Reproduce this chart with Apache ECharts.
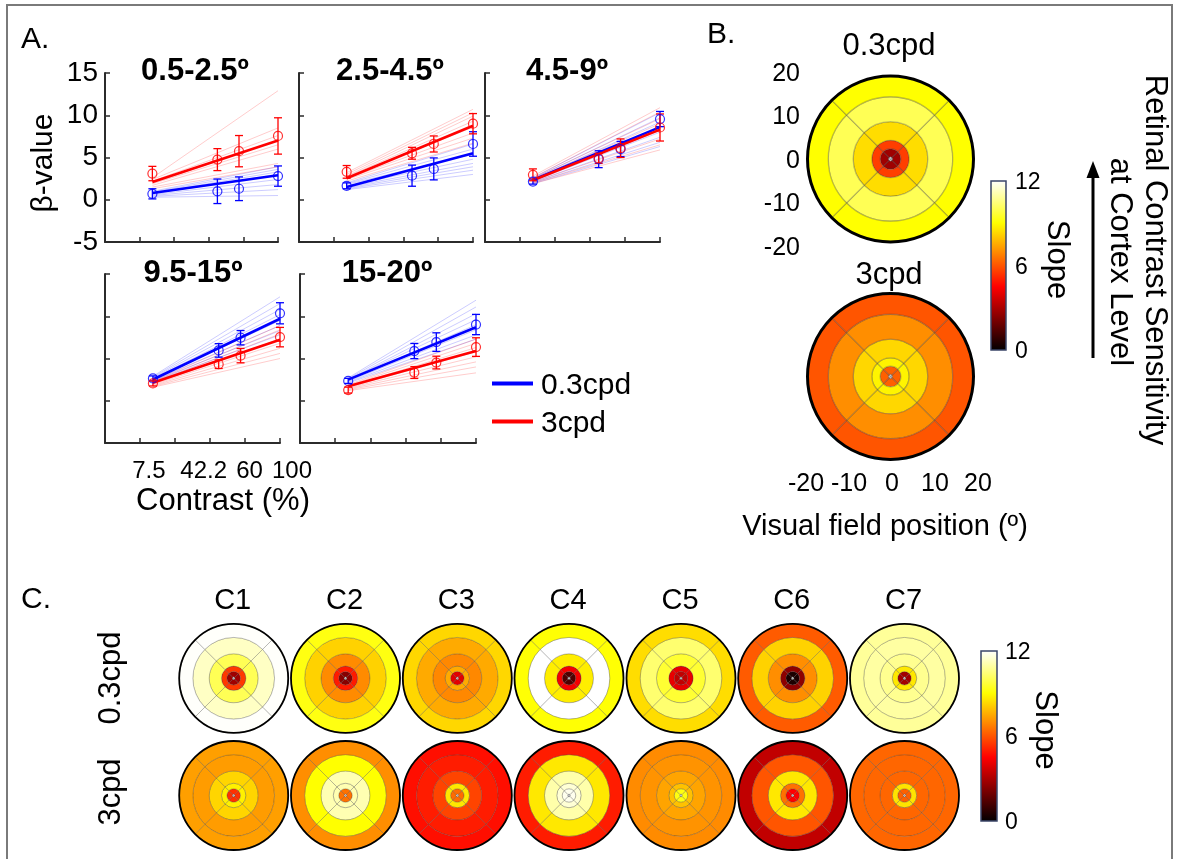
<!DOCTYPE html>
<html>
<head>
<meta charset="utf-8">
<title>Contrast response and slope maps</title>
<script src="https://cdn.jsdelivr.net/npm/echarts@6/dist/echarts.min.js"></script>
<style>
  html, body { margin: 0; padding: 0; background: #fff; }
  #fig { width: 1177px; height: 859px; }
</style>
</head>
<body>
<div id="fig"></div>
<script>
// ---------- data ----------
// stimulus contrast levels (%); plotted on a square-root x scale
const contrastLevels = [7.5, 42.2, 60, 100];
const contrastLabels = ['7.5', '42.2', '60', '100'];
const bandTitles = ['0.5-2.5º', '2.5-4.5º', '4.5-9º', '9.5-15º', '15-20º'];

// group mean beta values and error bars, 0.3cpd
const lowMean = [
  [0.7, 1.0, 1.3, 2.8],
  [1.65, 2.85, 3.65, 6.6],
  [2.15, 4.8, 6.0, 9.55],
  [2.64, 5.96, 7.46, 10.35],
  [2.35, 5.88, 6.94, 9.02]
];
const lowErr = [
  [0.6, 1.45, 1.4, 1.2],
  [0.35, 1.25, 1.3, 1.45],
  [0.3, 1.0, 0.9, 0.9],
  [0.3, 0.8, 0.85, 1.25],
  [0.3, 0.9, 1.1, 1.2]
];
// group fit, value at the lowest and highest contrast
const lowFit = [[0.8, 2.9], [1.5, 5.5], [2.35, 8.6], [2.52, 9.7], [2.5, 8.7]];

// group mean beta values and error bars, 3cpd
const highMean = [
  [3.1, 4.75, 5.75, 7.55],
  [3.3, 5.5, 6.6, 9.0],
  [2.95, 4.9, 6.1, 8.55],
  [2.05, 4.32, 5.34, 7.53],
  [1.26, 3.34, 4.52, 6.35]
];
const highErr = [
  [0.85, 1.3, 1.85, 2.15],
  [0.75, 0.7, 0.95, 1.2],
  [0.7, 0.6, 1.1, 1.6],
  [0.3, 0.5, 0.85, 1.15],
  [0.35, 0.7, 0.75, 1.1]
];
const highFit = [[2.1, 7.0], [2.55, 8.75], [2.3, 8.3], [2.12, 7.22], [1.73, 5.88]];

// single-subject fits (value at lowest, highest contrast)
const lowSubjects = [
  [[1.0, 3.9], [0.9, 3.6], [0.8, 3.3], [0.7, 3.0], [0.6, 2.4], [0.5, 1.8], [0.4, 1.2], [0.3, 0.5]],
  [[2.0, 6.6], [1.9, 6.0], [1.8, 5.4], [1.6, 4.8], [1.5, 4.3], [1.4, 3.9], [1.3, 3.5], [1.2, 3.0]],
  [[2.6, 10.3], [2.5, 9.7], [2.4, 9.2], [2.3, 8.6], [2.2, 8.0], [2.1, 7.4], [2.0, 6.8], [1.9, 6.3]],
  [[2.9, 12.3], [2.8, 11.5], [2.7, 10.8], [2.6, 10.2], [2.5, 9.5], [2.4, 8.9], [2.3, 8.3], [2.2, 7.8]],
  [[2.7, 11.9], [2.6, 11.1], [2.5, 10.3], [2.5, 9.6], [2.4, 9.0], [2.3, 8.4], [2.2, 7.8], [2.1, 7.3]]
];
const highSubjects = [
  [[2.6, 12.9], [2.4, 8.5], [2.2, 7.6], [2.0, 7.0], [1.9, 6.5], [1.7, 6.0], [1.5, 4.3], [1.3, 3.9]],
  [[3.2, 10.7], [3.0, 10.3], [2.8, 9.9], [2.7, 9.3], [2.6, 8.6], [2.5, 7.9], [2.4, 7.3], [2.2, 6.7]],
  [[2.8, 10.9], [2.6, 10.4], [2.5, 9.6], [2.4, 9.0], [2.3, 8.2], [2.1, 7.2], [2.0, 6.5], [1.9, 5.9]],
  [[2.3, 8.9], [2.2, 8.4], [2.1, 7.9], [2.0, 7.3], [1.9, 6.8], [1.8, 6.2], [1.7, 5.6], [1.6, 5.0]],
  [[1.9, 7.3], [1.8, 6.8], [1.7, 6.3], [1.6, 5.8], [1.5, 5.2], [1.4, 4.6], [1.3, 4.0], [1.2, 3.3]]
];

// eccentricity ring edges (deg) and slope per ring, centre outwards
const ringEdges = [0, 0.5, 2.5, 4.5, 9, 15, 20];
const groupSlopeLow = [12, 2.8, 5.6, 8.4, 10.0, 9.0];
const groupSlopeHigh = [12, 6.2, 8.8, 8.3, 7.0, 6.0];
const clusterNames = ['C1', 'C2', 'C3', 'C4', 'C5', 'C6', 'C7'];
const clusterSlopeLow = [
  [12, 2.8, 5.5, 10.0, 11.3, 11.95],
  [12, 2.4, 4.95, 6.95, 8.2, 9.2],
  [12, 4.0, 7.5, 6.9, 7.5, 8.3],
  [12, 1.4, 4.3, 8.7, 12, 9.05],
  [12, 3.4, 4.1, 9.6, 10.3, 8.4],
  [12, 0.5, 2.5, 7.0, 8.2, 6.1],
  [12, 2.9, 8.6, 10.7, 10.9, 10.8]
];
const clusterSlopeHigh = [
  [12, 5.35, 8.75, 8.25, 7.25, 7.3],
  [12, 6.5, 11.1, 11.1, 9.0, 7.0],
  [12, 6.4, 8.6, 5.7, 5.0, 4.75],
  [12, 11.8, 11.5, 11.0, 8.6, 5.0],
  [12, 9.2, 7.9, 7.4, 7.1, 6.95],
  [12, 4.5, 6.5, 8.6, 6.0, 3.4],
  [12, 6.2, 8.5, 6.3, 6.3, 6.3]
];
const slopeTicks = [0, 6, 12];

// ---------- styling / layout ----------
const FONT = '"Liberation Sans", Arial, Helvetica, sans-serif';
const BLUE = '#0000ff', RED = '#ff0000';
const AXIS = '#2b2b2b';
const SLOPE_MAX = 12;

// MATLAB-style "hot" colormap
function hot(v) {
  const t = Math.max(0, Math.min(1, v / SLOPE_MAX));
  const r = Math.min(1, t / 0.375);
  const g = Math.max(0, Math.min(1, (t - 0.375) / 0.375));
  const b = Math.max(0, Math.min(1, (t - 0.75) / 0.25));
  return 'rgb(' + Math.round(r * 255) + ',' + Math.round(g * 255) + ',' + Math.round(b * 255) + ')';
}

const panelGrids = [
  { left: 105, top: 73, width: 173, height: 169 },
  { left: 299, top: 73, width: 174, height: 169 },
  { left: 485, top: 73, width: 175, height: 169 },
  { left: 105, top: 274, width: 175, height: 169 },
  { left: 300, top: 274, width: 176, height: 169 }
];
const titlePos = [[195, 71], [390, 71], [567, 71], [193, 273], [387, 273]];

const diskLayout = [
  { cx: 890.5, cy: 159, r: 83, edge: 3, line: 1.3 },
  { cx: 890.5, cy: 376.5, r: 83, edge: 3, line: 1.3 }
];
const cCols = [233.7, 345.5, 457.3, 569, 681, 792.7, 904.5];
const cRows = [678.3, 795.5];
cRows.forEach(cy => cCols.forEach(cx => diskLayout.push({ cx: cx, cy: cy, r: 54.5, edge: 1.8, line: 1 })));
const diskSlopes = [groupSlopeLow, groupSlopeHigh].concat(clusterSlopeLow, clusterSlopeHigh);

function text(str, x, y, size, opts) {
  opts = opts || {};
  return {
    type: 'text', x: x, y: y, rotation: opts.rotation || 0, z: 50,
    style: {
      text: str, fontFamily: FONT, fontSize: size, fontWeight: opts.weight || 'normal',
      fill: '#000', align: opts.align || 'center', verticalAlign: 'middle',
      textAlign: opts.align || 'center', textVerticalAlign: 'middle'
    }
  };
}

// ---------- option ----------
const grid = panelGrids.slice();
grid.push({ left: 806, top: 74, width: 170, height: 174 });   // B: vertical position labels
grid.push({ left: 806, top: 300, width: 172, height: 166 });  // B: horizontal position labels

const xAxis = [], yAxis = [];
panelGrids.forEach((g, i) => {
  xAxis.push({
    gridIndex: i, type: 'value', min: 0, max: 10, interval: 2,
    axisLine: { show: true, onZero: false, lineStyle: { color: AXIS, width: 2 } },
    axisTick: { show: true, inside: true, length: 5, lineStyle: { color: AXIS, width: 1.5 } },
    axisLabel: { show: false }, splitLine: { show: false }
  });
  yAxis.push({
    gridIndex: i, type: 'value', min: -5, max: 15, interval: 5,
    axisLine: { show: true, onZero: false, lineStyle: { color: AXIS, width: 2 } },
    axisTick: { show: true, inside: true, length: 5, lineStyle: { color: AXIS, width: 1.5 } },
    axisLabel: { show: i === 0, fontFamily: FONT, fontSize: 28, color: '#000', margin: 7 },
    splitLine: { show: false }
  });
});
xAxis.push({ gridIndex: 5, type: 'value', min: -20, max: 20, show: false });
yAxis.push({
  gridIndex: 5, type: 'value', min: -20, max: 20, interval: 10,
  axisLine: { show: false }, axisTick: { show: false }, splitLine: { show: false },
  axisLabel: { fontFamily: FONT, fontSize: 25, color: '#000', margin: 6 }
});
xAxis.push({
  gridIndex: 6, type: 'value', min: -20, max: 20, interval: 10,
  axisLine: { show: false }, axisTick: { show: false }, splitLine: { show: false },
  axisLabel: { fontFamily: FONT, fontSize: 25, color: '#000', margin: 6 }
});
yAxis.push({ gridIndex: 6, type: 'value', min: -20, max: 20, show: false });

const series = [];
const sx = contrastLevels.map(c => Math.sqrt(c));
const sxFirst = sx[0], sxLast = sx[sx.length - 1];

function errorBars(idx, mean, err, color) {
  return {
    type: 'custom', xAxisIndex: idx, yAxisIndex: idx, z: 4, silent: true,
    data: mean.map((m, j) => [sx[j], m - err[j], m + err[j]]),
    encode: { x: 0, y: [1, 2] },
    renderItem: function (params, api) {
      const x = api.value(0);
      const lo = api.coord([x, api.value(1)]);
      const hi = api.coord([x, api.value(2)]);
      const cap = 4;
      const st = { stroke: color, lineWidth: 1.3 };
      return {
        type: 'group', children: [
          { type: 'line', shape: { x1: lo[0], y1: lo[1], x2: hi[0], y2: hi[1] }, style: st },
          { type: 'line', shape: { x1: lo[0] - cap, y1: lo[1], x2: lo[0] + cap, y2: lo[1] }, style: st },
          { type: 'line', shape: { x1: hi[0] - cap, y1: hi[1], x2: hi[0] + cap, y2: hi[1] }, style: st }
        ]
      };
    }
  };
}

for (let b = 0; b < 5; b++) {
  const groups = [
    { subj: lowSubjects[b], fit: lowFit[b], mean: lowMean[b], err: lowErr[b], color: BLUE, faint: 'rgba(0,0,255,0.2)', name: '0.3cpd' },
    { subj: highSubjects[b], fit: highFit[b], mean: highMean[b], err: highErr[b], color: RED, faint: 'rgba(255,0,0,0.2)', name: '3cpd' }
  ];
  groups.forEach(gp => {
    gp.subj.forEach(s => series.push({
      type: 'line', xAxisIndex: b, yAxisIndex: b, silent: true, symbol: 'none', z: 1,
      data: [[sxFirst, s[0]], [sxLast, s[1]]],
      lineStyle: { color: gp.faint, width: 1 }
    }));
  });
  groups.forEach(gp => {
    series.push({
      name: gp.name, type: 'line', xAxisIndex: b, yAxisIndex: b, silent: true, symbol: 'none', z: 3,
      data: [[sxFirst, gp.fit[0]], [sxLast, gp.fit[1]]],
      lineStyle: { color: gp.color, width: 2.6 }, itemStyle: { color: gp.color }
    });
    series.push(errorBars(b, gp.mean, gp.err, gp.color));
    series.push({
      type: 'scatter', xAxisIndex: b, yAxisIndex: b, silent: true, z: 5,
      symbol: 'circle', symbolSize: 9,
      data: gp.mean.map((m, j) => [sx[j], m]),
      itemStyle: { color: 'rgba(255,255,255,0)', borderColor: gp.color, borderWidth: 1.2 }
    });
  });
}

// slope maps: one polar system per disk, rings stacked outward, four 90° sectors
const polar = [], angleAxis = [], radiusAxis = [];
diskLayout.forEach((d, i) => {
  polar.push({ center: [d.cx, d.cy], radius: d.r });
  angleAxis.push({
    polarIndex: i, type: 'category', data: ['q1', 'q2', 'q3', 'q4'], startAngle: 45, z: 10,
    axisLine: { show: true, lineStyle: { color: '#000', width: d.edge } },
    axisTick: { show: false }, axisLabel: { show: false }, splitLine: { show: false }
  });
  radiusAxis.push({ polarIndex: i, type: 'value', min: 0, max: 20, show: false });
  diskSlopes[i].forEach((slope, k) => {
    const w = ringEdges[k + 1] - ringEdges[k];
    series.push({
      type: 'bar', coordinateSystem: 'polar', polarIndex: i, stack: 'disk' + i, silent: true,
      barCategoryGap: '0%', z: 2,
      data: [w, w, w, w],
      itemStyle: { color: hot(slope), borderColor: 'rgba(60,60,60,0.28)', borderWidth: d.line }
    });
  });
});

// colour bars
function hotGradient() {
  const stops = [];
  for (let i = 0; i <= 24; i++) stops.push({ offset: i / 24, color: hot(SLOPE_MAX * i / 24) });
  return { type: 'linear', x: 0, y: 1, x2: 0, y2: 0, colorStops: stops };
}
function colorBar(x, y, w, h, labelX, slopeX) {
  const els = [{
    type: 'rect', shape: { x: x, y: y, width: w, height: h }, z: 40,
    style: { fill: hotGradient(), stroke: '#3b4668', lineWidth: 1.5 }
  }];
  slopeTicks.forEach(v => els.push(text(String(v), labelX, y + h - (v / SLOPE_MAX) * h + 2, 23, { align: 'left' })));
  els.push(text('Slope', slopeX, y + h / 2 - 6, 31, { rotation: -Math.PI / 2 }));
  return els;
}

const baseGraphic = [
  { type: 'rect', shape: { x: 7, y: 5, width: 1165, height: 900 }, z: 0,
    style: { fill: 'none', stroke: '#7a7a7a', lineWidth: 2 } },
  text('A.', 21, 40, 30, { align: 'left' }),
  text('B.', 707, 35, 30, { align: 'left' }),
  text('C.', 21, 600, 30, { align: 'left' }),
  text('β-value', 44, 163, 30, { rotation: Math.PI / 2 }),
  text('Contrast (%)', 223, 501, 31),
  // legend
  { type: 'line', shape: { x1: 492, y1: 383.5, x2: 533, y2: 383.5 }, z: 40, style: { stroke: BLUE, lineWidth: 4 } },
  { type: 'line', shape: { x1: 492, y1: 421.5, x2: 533, y2: 421.5 }, z: 40, style: { stroke: RED, lineWidth: 4 } },
  text('0.3cpd', 541, 386, 30, { align: 'left' }),
  text('3cpd', 541, 424, 30, { align: 'left' }),
  // B
  text('0.3cpd', 889, 46, 31),
  text('3cpd', 889, 275, 31),
  text('Visual field position (º)', 885, 527, 29),
  text('Retinal Contrast Sensitivity', 1155, 260, 31, { rotation: -Math.PI / 2 }),
  text('at Cortex Level', 1120, 262, 31, { rotation: -Math.PI / 2 }),
  { type: 'line', shape: { x1: 1093, y1: 358, x2: 1093, y2: 176 }, z: 40, style: { stroke: '#000', lineWidth: 3 } },
  { type: 'polygon', shape: { points: [[1093, 161], [1086.5, 178], [1099.5, 178]] }, z: 40, style: { fill: '#000' } },
  // C
  text('0.3cpd', 111, 678, 31, { rotation: Math.PI / 2 }),
  text('3cpd', 111, 792, 31, { rotation: Math.PI / 2 })
];
bandTitles.forEach((t, i) => baseGraphic.push(text(t, titlePos[i][0], titlePos[i][1], 31, { weight: 'bold' })));
clusterNames.forEach((n, i) => baseGraphic.push(text(n, cCols[i] - 1, 601, 29)));
colorBar(991, 181, 15, 169, 1015, 1057).forEach(e => baseGraphic.push(e));
colorBar(981, 651, 16, 170, 1005, 1045).forEach(e => baseGraphic.push(e));

const chart = echarts.init(document.getElementById('fig'), null, { renderer: 'canvas', width: 1177, height: 859 });
chart.setOption({
  animation: false,
  backgroundColor: '#ffffff',
  textStyle: { fontFamily: FONT },
  grid: grid, xAxis: xAxis, yAxis: yAxis,
  polar: polar, angleAxis: angleAxis, radiusAxis: radiusAxis,
  series: series
});

// contrast tick labels under panel 9.5-15º, placed at the data positions (nudged apart)
const labelNudge = [-4, -15, 9, 12];
const tickLabels = contrastLevels.map((c, i) => {
  const p = chart.convertToPixel({ gridIndex: 3 }, [Math.sqrt(c), -5]);
  return text(contrastLabels[i], p[0] + labelNudge[i], 471, 24);
});
chart.setOption({ graphic: { elements: baseGraphic.concat(tickLabels) } });
</script>
</body>
</html>
